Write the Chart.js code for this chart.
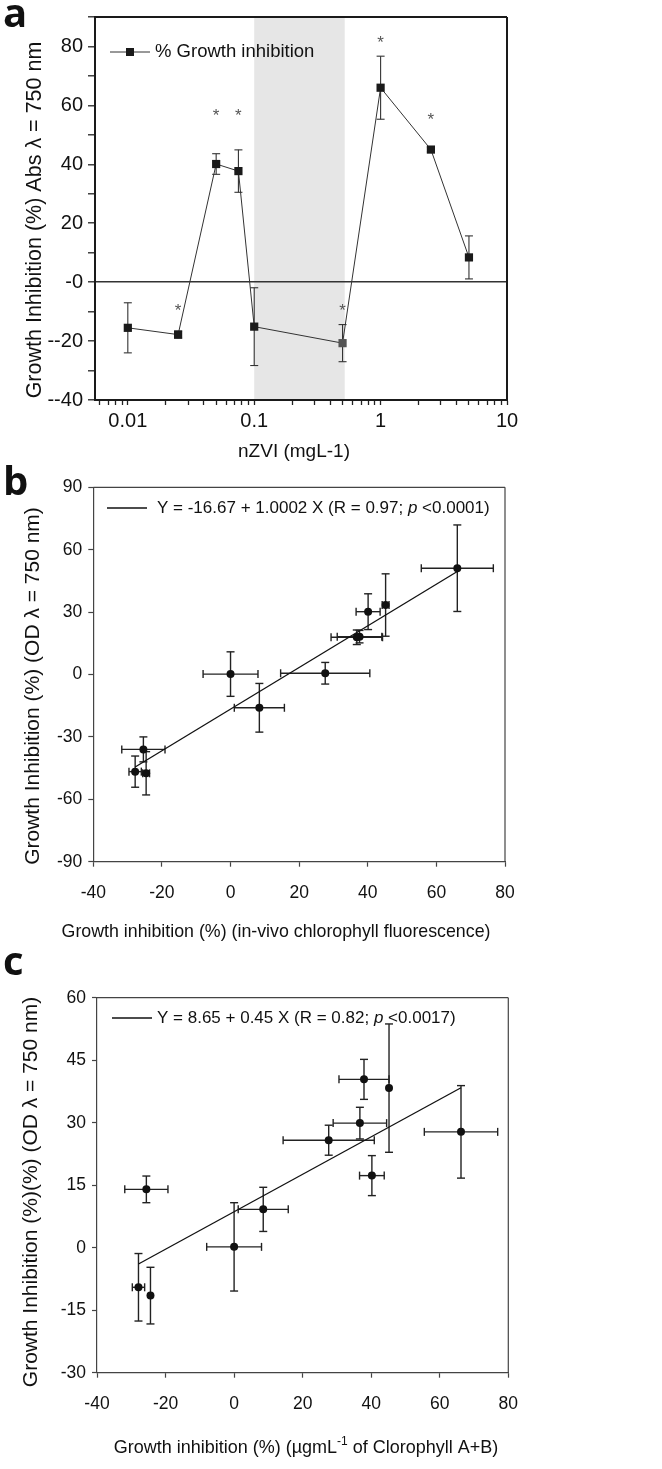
<!DOCTYPE html>
<html>
<head>
<meta charset="utf-8">
<script src="https://cdn.jsdelivr.net/npm/chart.js@4.4.1/dist/chart.umd.min.js"></script>
<style>
  body { margin: 0; background: #fff; }
  #wrap { position: relative; width: 662px; height: 1469px; }
  .panel { position: absolute; left: 0; width: 662px; }
</style>
</head>
<body>
<div id="wrap">
  <div class="panel" style="top:0;height:465px"><canvas id="chartA"></canvas></div>
  <div class="panel" style="top:465px;height:485px"><canvas id="chartB"></canvas></div>
  <div class="panel" style="top:950px;height:519px"><canvas id="chartC"></canvas></div>
</div>
<script>
// ---- panel a: inhibition vs nZVI dose
const doseMg = [0.01, 0.025, 0.05, 0.075, 0.1, 0.5, 1, 2.5, 5];
const inhibitionA = [-15.5, -17.8, 40.1, 37.7, -15.1, -20.7, 66.0, 45.0, 8.4];
const errA = [8.5, 1.2, 3.5, 7.2, 13.2, 6.3, 10.7, 0.8, 7.3];
const starA = [null, -8, 58, 58, null, -8, 83, 56.7, null];
const shadeA = [0.1, 0.52];
const xMajorA = [0.01, 0.1, 1, 10];
const yTicksA = [80, 60, 40, 20, 0, -20, -40];
const yTextA = ['80', '60', '40', '20', '-0', '--20', '--40'];

// ---- panel b: OD vs in-vivo fluorescence
const fluoX = [66.1, 40.1, 45.2, 36.8, 37.6, 27.6, 0.0, 8.4, -25.4, -27.8, -24.6];
const odYb = [51.1, 30.2, 33.4, 17.9, 18.2, 0.6, 0.2, -16.0, -36.0, -46.7, -47.5];
const fluoXErr = [10.5, 3.5, 1.0, 7.5, 6.5, 13.0, 8.0, 7.3, 6.3, 1.8, 1.0];
const odYbErr = [20.8, 8.6, 15.0, 3.5, 3.0, 5.2, 10.7, 11.7, 6.0, 7.5, 10.4];
const fitXb = [-27.8, 66.1];
const fitYb = [-44.5, 49.5];

// ---- panel c: OD vs chlorophyll A+B
const chlX = [37.9, 45.2, 36.7, 27.6, 66.2, 40.2, -25.6, 8.5, 0.0, -27.9, -24.4];
const odYc = [40.4, 38.3, 29.9, 25.8, 27.8, 17.3, 14.0, 9.2, 0.2, -9.5, -11.5];
const chlXErr = [7.3, 0, 7.8, 13.3, 10.7, 3.6, 6.3, 7.3, 8.0, 1.8, 0];
const odYcErr = [4.8, 15.4, 3.8, 3.6, 11.1, 4.8, 3.2, 5.3, 10.6, 8.1, 6.8];
const fitXc = [-27.9, 66.2];
const fitYc = [-3.9, 38.4];

const FONT = "'Liberation Sans', Arial, sans-serif";
Chart.defaults.font.family = FONT;
Chart.defaults.color = '#111';
Chart.defaults.animation = false;

function seg(ctx, x1, y1, x2, y2) {
  ctx.beginPath(); ctx.moveTo(x1, y1); ctx.lineTo(x2, y2); ctx.stroke();
}

function errorBars(chart, xs, ys, xe, ye, cap, color, width) {
  const ctx = chart.ctx, sx = chart.scales.x, sy = chart.scales.y;
  ctx.save();
  ctx.strokeStyle = color; ctx.lineWidth = width;
  xs.forEach((x, i) => {
    const px = sx.getPixelForValue(x), py = sy.getPixelForValue(ys[i]);
    if (ye && ye[i]) {
      const t = sy.getPixelForValue(ys[i] + ye[i]), b = sy.getPixelForValue(ys[i] - ye[i]);
      seg(ctx, px, t, px, b); seg(ctx, px - cap, t, px + cap, t); seg(ctx, px - cap, b, px + cap, b);
    }
    if (xe && xe[i]) {
      const l = sx.getPixelForValue(x - xe[i]), r = sx.getPixelForValue(x + xe[i]);
      seg(ctx, l, py, r, py); seg(ctx, l, py - cap, l, py + cap); seg(ctx, r, py - cap, r, py + cap);
    }
  });
  ctx.restore();
}

function frame(chart, color, width) {
  const {ctx, chartArea: a} = chart;
  ctx.save(); ctx.strokeStyle = color; ctx.lineWidth = width;
  seg(ctx, a.left, a.top, a.right, a.top);
  seg(ctx, a.right, a.top, a.right, a.bottom);
  ctx.restore();
}

// draws runs of text with different fonts, centred or left aligned
function rich(ctx, x, y, parts, center, rotate) {
  ctx.save();
  ctx.translate(x, y);
  if (rotate) ctx.rotate(-Math.PI / 2);
  ctx.textBaseline = 'middle'; ctx.textAlign = 'left'; ctx.fillStyle = '#111';
  let total = 0;
  parts.forEach(p => { ctx.font = p[1]; total += ctx.measureText(p[0]).width; });
  let cx = center ? -total / 2 : 0;
  parts.forEach(p => { ctx.font = p[1]; ctx.fillText(p[0], cx, p[2] || 0); cx += ctx.measureText(p[0]).width; });
  ctx.restore();
}

function letter(ctx, t, x, y) {
  ctx.save();
  ctx.font = "bold 40px 'Open Sans', " + FONT;
  ctx.fillStyle = '#111'; ctx.textBaseline = 'alphabetic';
  ctx.fillText(t, x, y);
  ctx.restore();
}

const quiet = { legend: { display: false }, tooltip: { enabled: false } };

// ---------------- a
const xTicksA = [];
for (let e = -3; e <= 0; e++) {
  for (let m = 1; m <= 9; m++) {
    const v = Number((m * Math.pow(10, e)).toPrecision(3));
    if (v >= 0.006 && v <= 10) xTicksA.push(v);
  }
}
xTicksA.push(10);
const isMajorA = v => xMajorA.some(m => Math.abs(m - v) < 1e-9);
const colorA = doseMg.map((d, i) => (i === 5 ? '#555' : '#1a1a1a'));

new Chart(document.getElementById('chartA'), {
  type: 'line',
  data: {
    datasets: [{
      data: doseMg.map((x, i) => ({ x, y: inhibitionA[i] })),
      borderColor: '#333', borderWidth: 1,
      pointStyle: 'rect', pointRadius: 5.8,
      pointBackgroundColor: colorA, pointBorderColor: colorA, pointBorderWidth: 0
    }]
  },
  options: {
    responsive: true, maintainAspectRatio: false,
    layout: { padding: { top: 14, right: 155, left: 0, bottom: 0 } },
    plugins: quiet,
    scales: {
      x: {
        type: 'logarithmic', min: 0.0055, max: 10,
        afterFit: s => { s.height = 65; },
        afterBuildTicks: s => { s.ticks = xTicksA.map(v => ({ value: v, major: isMajorA(v) })); },
        ticks: { autoSkip: false, maxRotation: 0, padding: 4, font: { size: 20 }, color: '#111',
          callback: v => (isMajorA(v) ? String(v) : '') },
        grid: { drawOnChartArea: false, tickLength: 5, tickColor: '#222', tickWidth: 1.3 },
        border: { color: '#1a1a1a', width: 2 }
      },
      y: {
        min: -40, max: 90,
        afterFit: s => { s.width = 95; },
        ticks: { stepSize: 10, padding: 5, font: { size: 20 }, color: '#111',
          callback: v => { const k = yTicksA.indexOf(v); return k < 0 ? '' : yTextA[k]; } },
        grid: {
          drawOnChartArea: true,
          color: c => (c.tick && c.tick.value === 0 ? '#333' : 'rgba(0,0,0,0)'),
          lineWidth: 1.6, tickLength: 7, tickColor: '#222', tickWidth: 1.3
        },
        border: { color: '#1a1a1a', width: 2 }
      }
    }
  },
  plugins: [{
    id: 'decorA',
    beforeDraw(chart) {
      const {ctx, chartArea: a, scales: {x}} = chart;
      ctx.save();
      ctx.fillStyle = '#e6e6e6';
      const l = x.getPixelForValue(shadeA[0]), r = x.getPixelForValue(shadeA[1]);
      ctx.fillRect(l, a.top, r - l, a.bottom - a.top);
      ctx.restore();
    },
    beforeDatasetsDraw(chart) {
      frame(chart, '#1a1a1a', 2);
      errorBars(chart, doseMg, inhibitionA, null, errA, 4, '#333', 1.1);
    },
    afterDraw(chart) {
      const {ctx, scales: {x, y}} = chart;
      ctx.save();
      ctx.fillStyle = '#555'; ctx.font = '17px ' + FONT; ctx.textAlign = 'center'; ctx.textBaseline = 'alphabetic';
      doseMg.forEach((d, i) => {
        if (starA[i] !== null) ctx.fillText('*', x.getPixelForValue(d), y.getPixelForValue(starA[i]) + 10);
      });
      // legend
      ctx.strokeStyle = '#333'; ctx.lineWidth = 1;
      seg(ctx, 110, 52, 150, 52);
      ctx.fillStyle = '#1a1a1a'; ctx.fillRect(126, 48, 8, 8);
      ctx.restore();
      rich(ctx, 155, 52, [['% Growth inhibition', '18.5px ' + FONT]], false);
      rich(ctx, 294, 452, [['nZVI (mgL-1)', '19px ' + FONT]], true);
      rich(ctx, 35, 220, [['Growth Inhibition (%) Abs \u03bb = 750 nm', '21.5px ' + FONT]], true, true);
      letter(ctx, 'a', 3, 27);
    }
  }]
});

// ---------------- b & c share the same look
function scatterPanel(id, xs, ys, xe, ye, fitX, fitY, cfg) {
  new Chart(document.getElementById(id), {
    type: 'scatter',
    data: {
      datasets: [
        { type: 'line', data: fitX.map((x, i) => ({ x, y: fitY[i] })), borderColor: '#111', borderWidth: 1.3, pointRadius: 0 },
        { data: xs.map((x, i) => ({ x, y: ys[i] })), pointRadius: 4, pointBackgroundColor: '#111', pointBorderWidth: 0 }
      ]
    },
    options: {
      responsive: true, maintainAspectRatio: false,
      layout: { padding: { top: cfg.top, right: cfg.right, left: 0, bottom: 0 } },
      plugins: quiet,
      scales: {
        x: {
          type: 'linear', min: -40, max: 80,
          afterFit: s => { s.height = cfg.xh; },
          ticks: { stepSize: 20, padding: 16, maxRotation: 0, font: { size: 17.5 }, color: '#111' },
          grid: { drawOnChartArea: false, tickLength: 5, tickColor: '#444', tickWidth: 1.2 },
          border: { color: '#444', width: 1.2 }
        },
        y: {
          min: cfg.ymin, max: cfg.ymax,
          afterFit: s => { s.width = cfg.yw; },
          ticks: { stepSize: cfg.ystep, padding: 6, font: { size: 17.5 }, color: '#111' },
          grid: { drawOnChartArea: false, tickLength: 5, tickColor: '#444', tickWidth: 1.2 },
          border: { color: '#444', width: 1.2 }
        }
      }
    },
    plugins: [{
      id: 'decor' + id,
      beforeDatasetsDraw(chart) {
        frame(chart, '#444', 1.2);
        errorBars(chart, xs, ys, xe, ye, 4, '#222', 1.4);
      },
      afterDraw(chart) {
        const ctx = chart.ctx;
        ctx.save(); ctx.strokeStyle = '#111'; ctx.lineWidth = 1.3;
        seg(ctx, cfg.legX, cfg.legY, cfg.legX + 40, cfg.legY);
        ctx.restore();
        rich(ctx, cfg.legTextX, cfg.legY, cfg.legend, false);
        rich(ctx, cfg.xtX, cfg.xtY, cfg.xTitle, true);
        rich(ctx, cfg.ytX, cfg.ytY, cfg.yTitle, true, true);
        letter(ctx, cfg.letter, 3, cfg.letterY);
      }
    }]
  });
}

const N = '17px ' + FONT, I = 'italic 17px ' + FONT;

scatterPanel('chartB', fluoX, odYb, fluoXErr, odYbErr, fitXb, fitYb, {
  top: 22.3, right: 157, xh: 88.3, yw: 93.3, ymin: -90, ymax: 90, ystep: 30,
  legX: 107, legTextX: 157, legY: 43,
  legend: [['Y = -16.67 + 1.0002 X (R = 0.97; ', N], ['p', I], [' <0.0001)', N]],
  xtX: 276, xtY: 467, xTitle: [['Growth inhibition (%) (in-vivo chlorophyll fluorescence)', '17.8px ' + FONT]],
  ytX: 33, ytY: 221, yTitle: [['Growth Inhibition (%) (OD \u03bb = 750 nm)', '21px ' + FONT]],
  letter: 'b', letterY: 30
});

scatterPanel('chartC', chlX, odYc, chlXErr, odYcErr, fitXc, fitYc, {
  top: 47.7, right: 153.7, xh: 96.3, yw: 97, ymin: -30, ymax: 60, ystep: 15,
  legX: 112, legTextX: 157, legY: 68,
  legend: [['Y = 8.65 + 0.45 X (R = 0.82; ', N], ['p', I], [' <0.0017)', N]],
  xtX: 306, xtY: 498,
  xTitle: [['Growth inhibition (%) (\u00b5gmL', '18px ' + FONT], ['-1', '12px ' + FONT, -6], [' of Clorophyll A+B)', '18px ' + FONT]],
  ytX: 31, ytY: 242, yTitle: [['Growth Inhibition (%)(%) (OD \u03bb = 750 nm)', '21px ' + FONT]],
  letter: 'c', letterY: 25
});
</script>
</body>
</html>
